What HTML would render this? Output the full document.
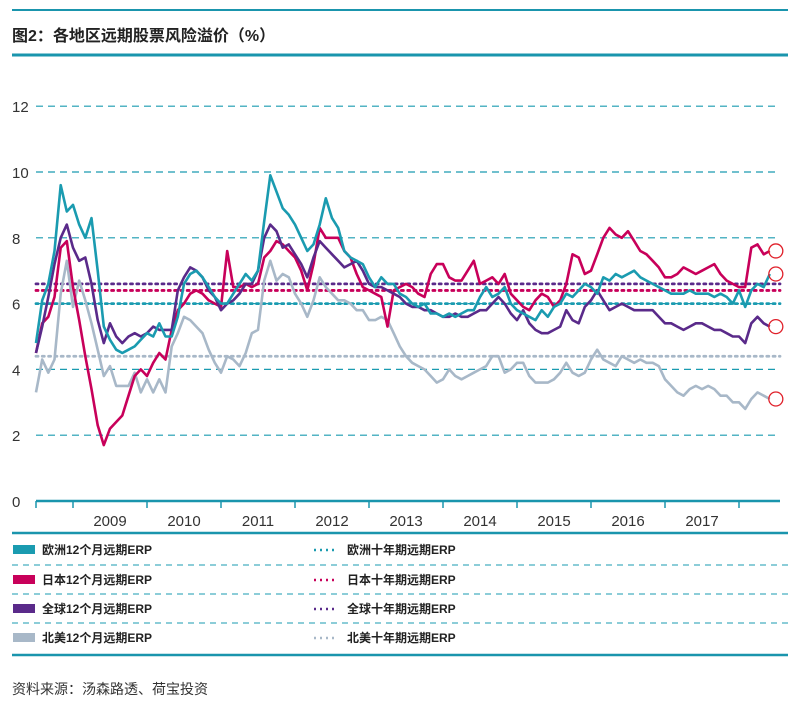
<!DOCTYPE html>
<html><head><meta charset="utf-8"><style>
body{margin:0;background:#fff;width:800px;height:706px;overflow:hidden;font-family:"Liberation Sans","Noto Sans CJK SC",sans-serif}
svg text{font-family:"Liberation Sans","Noto Sans CJK SC",sans-serif}
</style></head><body>
<svg id="c" width="800" height="706">
<line x1="12" y1="10" x2="788" y2="10" stroke="#1a95ad" stroke-width="2"/>
<text x="12" y="41" font-size="16" font-weight="bold" fill="#222">图2：各地区远期股票风险溢价（%）</text>
<line x1="12" y1="55" x2="788" y2="55" stroke="#1a95ad" stroke-width="3"/>
<g id="grid"></g><g id="refs"></g><g id="series"></g><g id="axis"></g>
<line x1="12" y1="533" x2="788" y2="533" stroke="#1a95ad" stroke-width="2.5"/>
<g>
<rect x="13" y="545" width="22" height="9" fill="#1a9bb0"/>
<text x="42" y="554" font-size="12" font-weight="bold" fill="#222">欧洲12个月远期ERP</text>
<line x1="314" y1="550" x2="338" y2="550" stroke="#1a9bb0" stroke-width="2.5" stroke-dasharray="2,4"/>
<text x="347" y="554" font-size="12" font-weight="bold" fill="#222">欧洲十年期远期ERP</text>
<line x1="12" y1="565" x2="788" y2="565" stroke="#1a9bb0" stroke-dasharray="6,5"/>
<rect x="13" y="575" width="22" height="9" fill="#c8005a"/>
<text x="42" y="584" font-size="12" font-weight="bold" fill="#222">日本12个月远期ERP</text>
<line x1="314" y1="580" x2="338" y2="580" stroke="#c8005a" stroke-width="2.5" stroke-dasharray="2,4"/>
<text x="347" y="584" font-size="12" font-weight="bold" fill="#222">日本十年期远期ERP</text>
<line x1="12" y1="594" x2="788" y2="594" stroke="#1a9bb0" stroke-dasharray="6,5"/>
<rect x="13" y="604" width="22" height="9" fill="#5a2a8a"/>
<text x="42" y="613" font-size="12" font-weight="bold" fill="#222">全球12个月远期ERP</text>
<line x1="314" y1="609" x2="338" y2="609" stroke="#5a2a8a" stroke-width="2.5" stroke-dasharray="2,4"/>
<text x="347" y="613" font-size="12" font-weight="bold" fill="#222">全球十年期远期ERP</text>
<line x1="12" y1="623" x2="788" y2="623" stroke="#1a9bb0" stroke-dasharray="6,5"/>
<rect x="13" y="633" width="22" height="9" fill="#a8b8c8"/>
<text x="42" y="642" font-size="12" font-weight="bold" fill="#222">北美12个月远期ERP</text>
<line x1="314" y1="638" x2="338" y2="638" stroke="#a8b8c8" stroke-width="2.5" stroke-dasharray="2,4"/>
<text x="347" y="642" font-size="12" font-weight="bold" fill="#222">北美十年期远期ERP</text>
</g>
<line x1="12" y1="655" x2="788" y2="655" stroke="#1a95ad" stroke-width="2.5"/>
<text x="12" y="694" font-size="14" fill="#333">资料来源：汤森路透、荷宝投资</text>
</svg>
<script>
const yTicks=[0,2,4,6,8,10,12];
const years=["2009","2010","2011","2012","2013","2014","2015","2016","2017"];
const refNames=["europe","japan","global","na"];
const refValues=[6.0,6.4,6.6,4.4];
const europe=[4.8,6.1,6.6,7.6,9.6,8.8,9.0,8.4,8.0,8.6,7.0,5.3,4.9,4.6,4.5,4.6,4.7,4.9,5.1,5.0,5.4,5.0,5.0,5.6,6.6,6.9,7.0,6.8,6.5,6.2,6.0,6.0,6.3,6.6,6.9,6.7,7.0,8.5,9.9,9.4,8.9,8.7,8.4,8.0,7.6,7.8,8.4,9.2,8.6,8.3,7.6,7.4,7.3,7.2,6.8,6.5,6.8,6.6,6.6,6.3,6.2,6.0,5.9,6.0,5.7,5.7,5.6,5.7,5.6,5.7,5.8,5.8,6.2,6.5,6.2,6.3,6.5,6.0,5.8,5.7,5.6,5.5,5.8,5.6,5.9,6.0,6.3,6.2,6.4,6.6,6.5,6.3,6.8,6.7,6.9,6.8,6.9,7.0,6.8,6.7,6.6,6.5,6.4,6.3,6.3,6.3,6.4,6.3,6.3,6.3,6.2,6.3,6.2,6.0,6.4,5.9,6.4,6.6,6.5,6.9];
const japan=[4.5,5.4,5.6,6.2,7.7,7.9,6.5,5.5,4.4,3.4,2.3,1.7,2.2,2.4,2.6,3.2,3.8,4.0,3.8,4.2,4.5,4.3,5.2,5.8,6.0,6.3,6.4,6.3,6.1,6.0,5.9,7.6,6.5,6.5,6.6,6.5,6.6,7.4,7.6,7.9,7.8,7.6,7.4,7.0,6.4,7.2,8.3,8.0,8.0,8.0,7.6,7.4,6.9,6.5,6.4,6.3,6.2,5.3,6.4,6.5,6.6,6.5,6.3,6.2,6.9,7.2,7.2,6.8,6.7,6.7,7.0,7.3,6.6,6.7,6.8,6.6,6.9,6.3,6.1,5.9,5.8,6.1,6.3,6.2,5.9,6.1,6.6,7.5,7.4,6.9,7.0,7.5,8.0,8.3,8.1,8.0,8.2,7.9,7.6,7.5,7.3,7.1,6.8,6.8,6.9,7.1,7.0,6.9,7.0,7.1,7.2,6.9,6.7,6.6,6.5,6.5,7.7,7.8,7.5,7.6];
const global=[4.5,5.3,6.2,7.2,8.0,8.4,7.7,7.3,7.4,6.6,5.5,4.8,5.4,5.0,4.8,5.0,5.1,5.0,5.1,5.3,5.2,5.2,5.2,6.4,6.8,7.1,7.0,6.8,6.4,6.2,5.8,6.0,6.1,6.3,6.6,6.6,7.0,8.0,8.4,8.2,7.7,7.8,7.5,7.2,6.8,7.4,7.9,7.7,7.5,7.3,7.1,7.2,7.3,7.0,6.6,6.5,6.5,6.4,6.3,6.2,6.0,5.9,5.9,5.8,5.8,5.7,5.6,5.6,5.7,5.6,5.6,5.7,5.8,5.8,6.0,6.2,6.0,5.7,5.5,5.8,5.4,5.2,5.1,5.1,5.2,5.3,5.8,5.5,5.4,5.9,6.1,6.4,6.1,5.8,5.9,6.0,5.9,5.8,5.8,5.8,5.8,5.6,5.4,5.4,5.3,5.2,5.3,5.4,5.4,5.3,5.2,5.2,5.1,5.0,5.0,4.8,5.4,5.6,5.4,5.3];
const northAmerica=[3.3,4.3,3.9,4.3,6.3,7.3,5.9,6.7,6.1,5.4,4.6,3.8,4.1,3.5,3.5,3.5,3.9,3.3,3.7,3.3,3.7,3.3,4.7,5.1,5.6,5.5,5.3,5.1,4.6,4.2,3.9,4.4,4.3,4.1,4.5,5.1,5.2,6.7,7.3,6.7,6.9,6.8,6.3,6.0,5.6,6.1,6.8,6.5,6.3,6.1,6.1,6.0,5.8,5.8,5.5,5.5,5.6,5.5,5.1,4.7,4.4,4.2,4.1,4.0,3.8,3.6,3.7,4.0,3.8,3.7,3.8,3.9,4.0,4.1,4.4,4.4,3.9,4.0,4.2,4.2,3.8,3.6,3.6,3.6,3.7,3.9,4.2,3.9,3.8,3.9,4.3,4.6,4.3,4.2,4.1,4.4,4.3,4.2,4.3,4.2,4.2,4.1,3.7,3.5,3.3,3.2,3.4,3.5,3.4,3.5,3.4,3.2,3.2,3.0,3.0,2.8,3.1,3.3,3.2,3.1];
const startYear=2008.5;
const NS="http://www.w3.org/2000/svg";
const X0=73,PX_YEAR=74,Y0=501,PX_UNIT=32.9;
function xT(t){return X0+(t-2009)*PX_YEAR;}
function xI(i){return xT(startYear+i/12);}
function yV(v){return Y0-v*PX_UNIT;}
function mk(tag,attrs,parent){const e=document.createElementNS(NS,tag);for(const k in attrs)e.setAttribute(k,attrs[k]);parent.appendChild(e);return e;}
const grid=document.getElementById('grid'),refs=document.getElementById('refs'),ser=document.getElementById('series'),axis=document.getElementById('axis');
yTicks.forEach(v=>{
 if(v>0){const l=mk('line',{x1:36,x2:780,y1:yV(v),y2:yV(v),stroke:'#1a9bb0','stroke-width':1.2,'stroke-dasharray':'7,5'},grid);
 
 }
 const t=mk('text',{x:12,y:yV(v)+6,'font-size':15,fill:'#333'},grid);t.textContent=v;
 
 
});
const refColors={europe:'#1a9bb0',japan:'#c8005a',global:'#5a2a8a',na:'#a8b8c8'};
refNames.forEach((n,k)=>{
 const l=mk('line',{x1:36,x2:780,y1:yV(refValues[k]),y2:yV(refValues[k]),stroke:refColors[n],'stroke-width':2.8,'stroke-dasharray':'2,4.3','stroke-linecap':'round'},refs);
 
 
});
const seriesList=[['na',northAmerica],['japan',japan],['global',global],['europe',europe]];
seriesList.forEach(([n,arr])=>{
 const d=arr.map((v,i)=>(i?'L':'M')+xI(i).toFixed(1)+' '+yV(v).toFixed(1)).join(' ');
 const p=mk('path',{d:d,fill:'none',stroke:refColors[n],'stroke-width':2.6,'stroke-linejoin':'round'},ser);
 
 
});
seriesList.forEach(([n,arr])=>{
 const last=arr.length-1;
 const c=mk('circle',{cx:xI(last)+6,cy:yV(arr[last]),r:7,fill:'none',stroke:'#e0202a','stroke-width':1.3},ser);
 
 
});
const ax=mk('line',{x1:36,x2:780,y1:Y0,y2:Y0,stroke:'#1a95ad','stroke-width':2.5},axis);


for(let k=0;k<=years.length+1;k++){
 const x=k===0?36:xT(2009+k-1);
 const t=mk('line',{x1:x,x2:x,y1:Y0,y2:Y0+7,stroke:'#1a95ad','stroke-width':1.5},axis);
 
 
}
years.forEach((y,k)=>{
 const t=mk('text',{x:xT(+y+0.5),y:Y0+25,'font-size':15,fill:'#333','text-anchor':'middle'},axis);t.textContent=y;
 
 
});
</script>
</body></html>
